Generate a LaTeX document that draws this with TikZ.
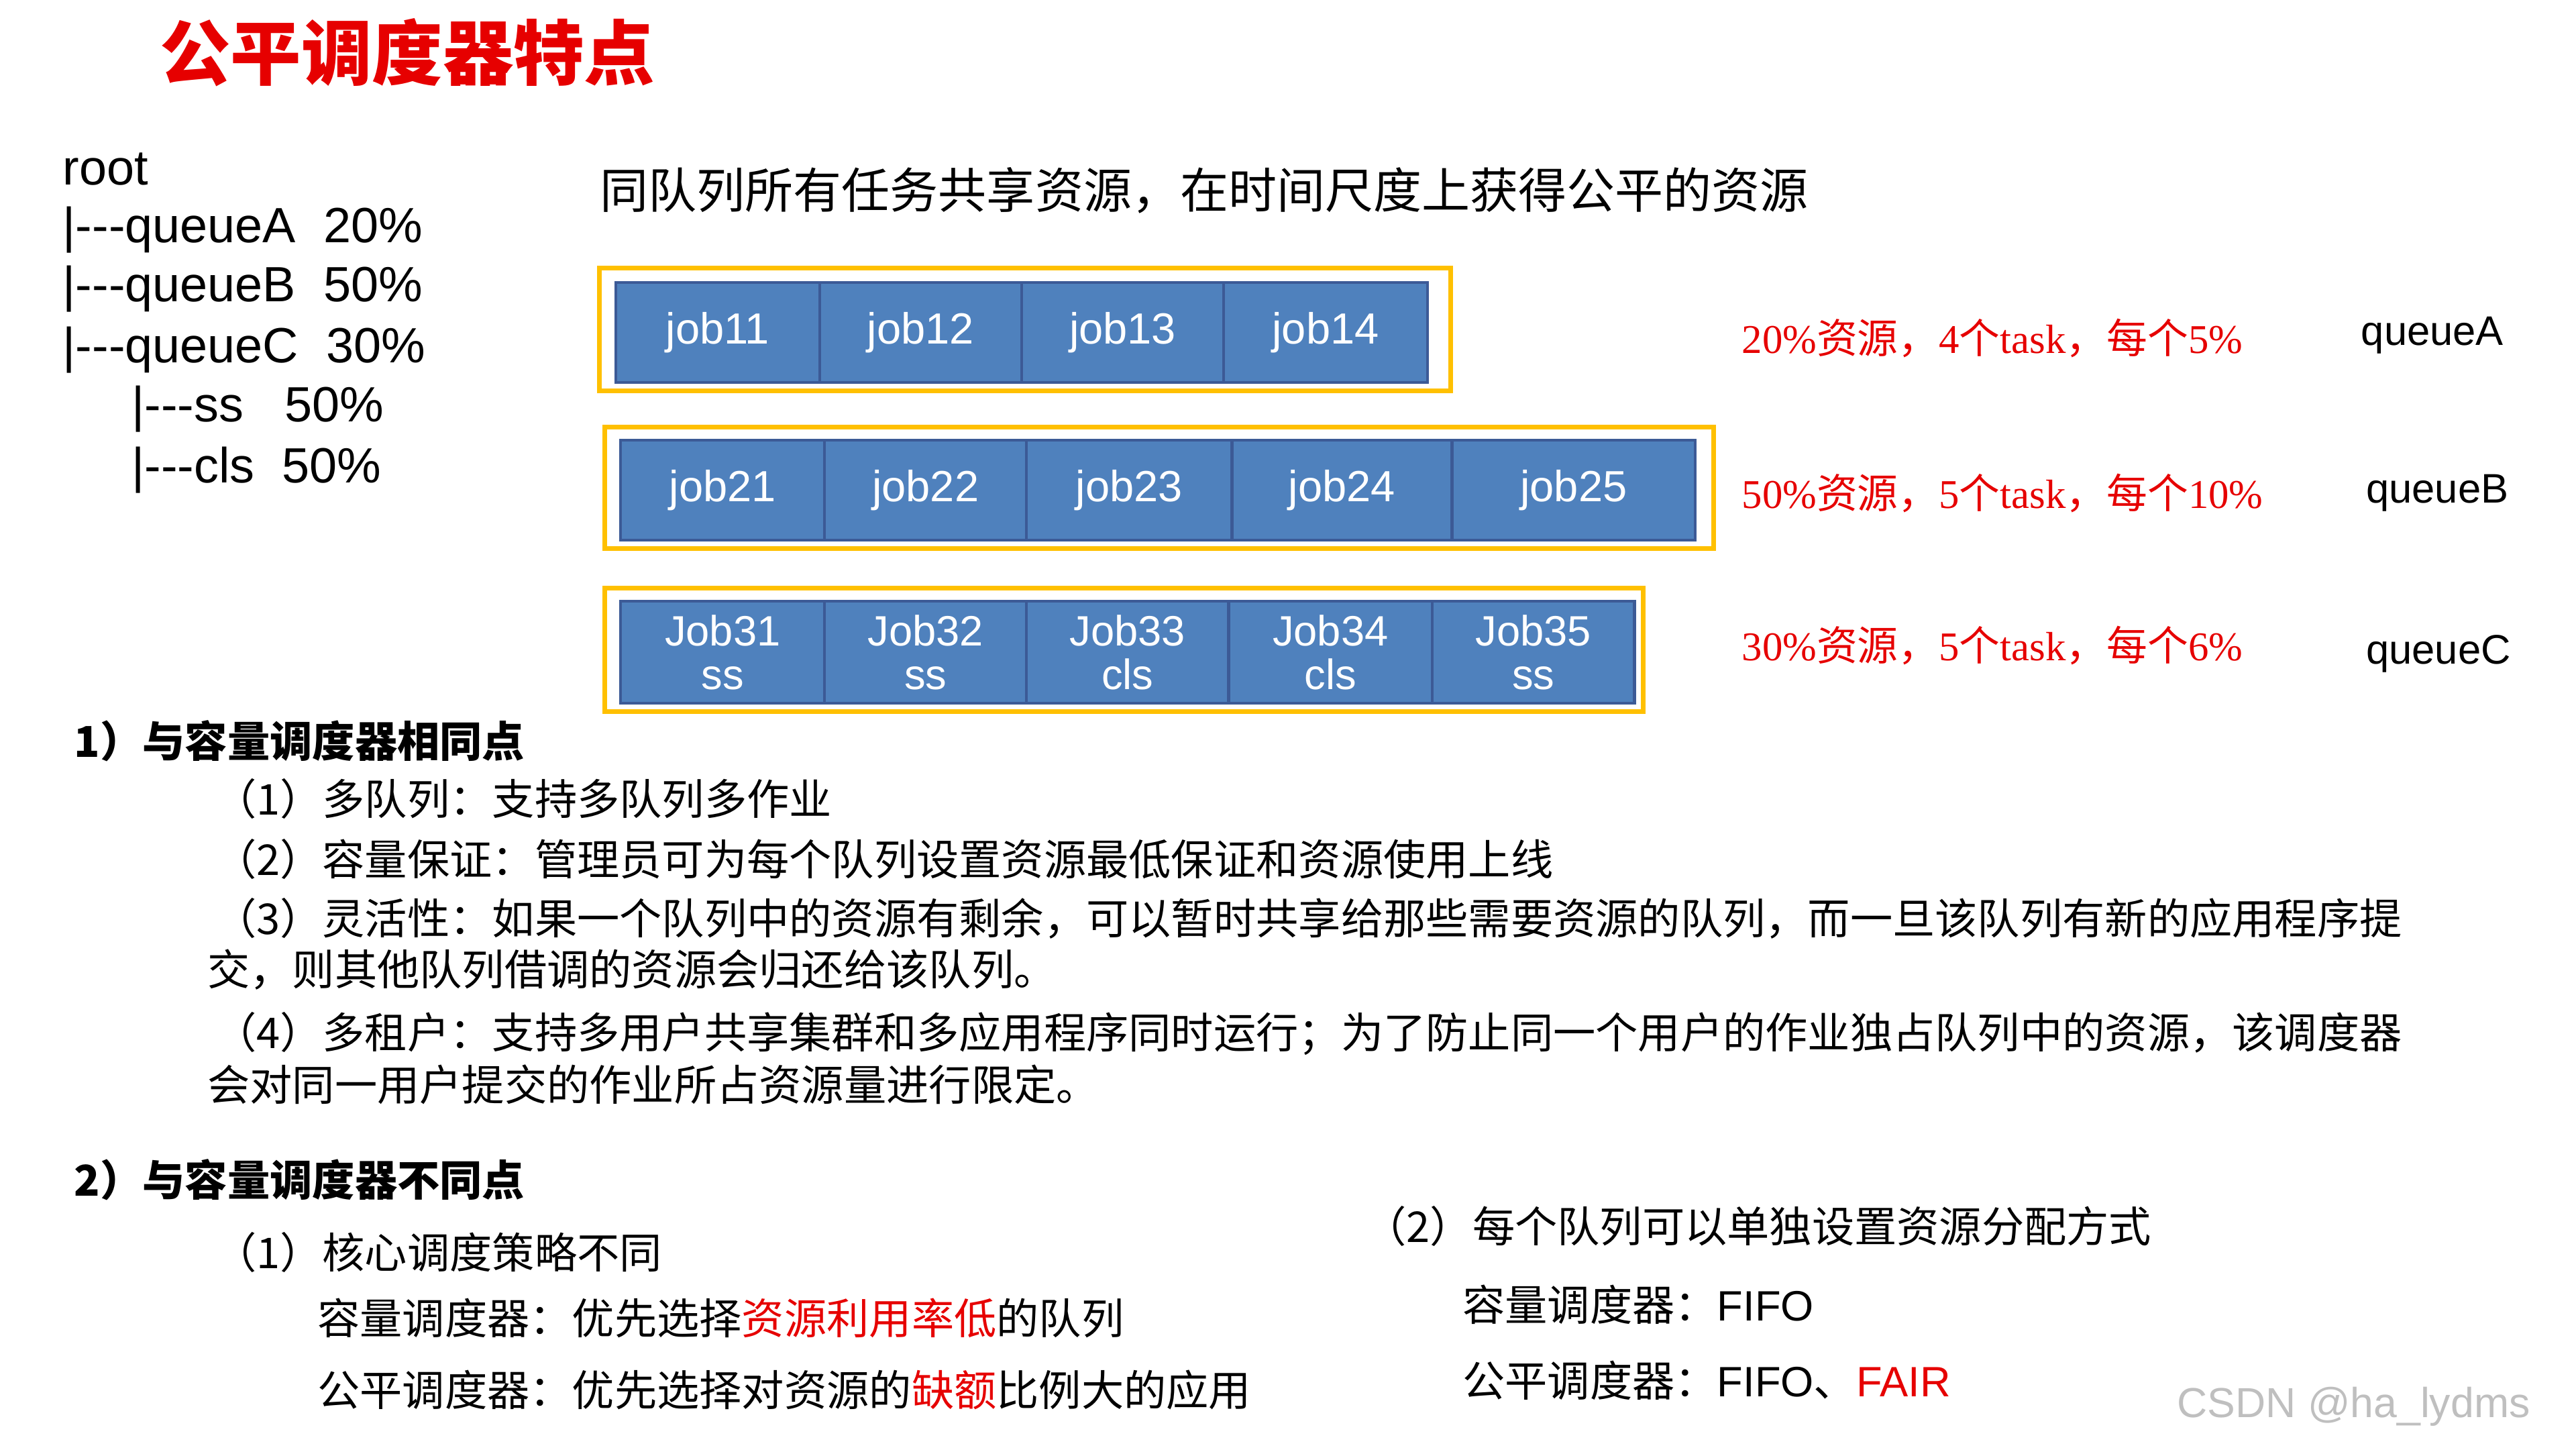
\documentclass[tikz,border=0pt]{standalone}
\usepackage{fontspec}
\setmainfont{Noto Sans CJK SC}
\newfontfamily\lat{Liberation Sans}
\newfontfamily\ser{Liberation Serif}
\newfontfamily\cjk{Noto Sans CJK SC}
\begin{document}
\begin{tikzpicture}[x=0.02449cm,y=-0.02449cm,
  jobbox/.style={draw={rgb,255:red,60;green,90;blue,150},line width=1.2pt,fill={rgb,255:red,79;green,129;blue,189},text=white,font=\lat\fontsize{18.5}{20}\selectfont,align=center,inner sep=0pt},
  ybox/.style={draw={rgb,255:red,255;green,192;blue,0},line width=2pt},
  tx/.style={anchor=west,inner sep=0pt,font=\fontsize{18}{20}\selectfont},
  redl/.style={anchor=west,inner sep=0pt,text={rgb,255:red,230;green,0;blue,0},font=\fontsize{17.3}{20}\selectfont}]
\useasboundingbox (0,0) rectangle (1568,882);
\node[anchor=west,inner sep=0pt,text={rgb,255:red,230;green,0;blue,0},font=\bfseries\fontsize{30}{34}\selectfont] (title) at (97,32) {公平调度器特点};
\foreach \t/\x/\y [count=\i] in {root/38/103,{|---queueA\ \ 20\%}/38/140,{|---queueB\ \ 50\%}/38/176,{|---queueC\ \ 30\%}/38/213,{|---ss\ \ \ 50\%}/80/249,{|---cls\ \ 50\%}/80/286}
  \node[anchor=west,inner sep=0pt,font=\lat\fontsize{21}{24}\selectfont] (r\i) at (\x,\y) {\t};
\node[anchor=west,inner sep=0pt,font=\fontsize{20.5}{24}\selectfont] (head) at (365,116) {同队列所有任务共享资源，在时间尺度上获得公平的资源};
% row 1
\draw[ybox] (365,163) rectangle (883,238);
\foreach \a/\b/\n in {374/498/job11,498/621/job12,621/744/job13,744/868/job14}
  \node[jobbox,minimum width={(\b-\a)*0.02449cm},minimum height=1.49cm,anchor=north west] (\n) at (\a,171) {\n};
% row 2
\draw[ybox] (368,260) rectangle (1043,334);
\foreach \a/\b/\n in {377/501/job21,501/624/job22,624/749/job23,749/883/job24,883/1031/job25}
  \node[jobbox,minimum width={(\b-\a)*0.02449cm},minimum height=1.49cm,anchor=north west] (\n) at (\a,267) {\n};
% row 3
\draw[ybox] (368,358) rectangle (1000,433);
\foreach \a/\b/\n/\s in {377/501/Job31/ss,501/624/Job32/ss,624/747/Job33/cls,747/871/Job34/cls,871/994/Job35/ss}
  \node[jobbox,minimum width={(\b-\a)*0.02449cm},minimum height=1.52cm,anchor=north west,font=\lat\fontsize{18}{18.5}\selectfont] (\n) at (\a,365) {\n\\\s};
\node[redl] (l1) at (1060,206) {\ser 20\%\cjk 资源，\ser 4\cjk 个\ser task\cjk ，每个\ser 5\%};
\node[redl] (l2) at (1060,300) {\ser 50\%\cjk 资源，\ser 5\cjk 个\ser task\cjk ，每个\ser 10\%};
\node[redl] (l3) at (1060,393) {\ser 30\%\cjk 资源，\ser 5\cjk 个\ser task\cjk ，每个\ser 6\%};
\node[anchor=west,inner sep=0pt,font=\lat\fontsize{17.5}{20}\selectfont] (qa) at (1437,204) {queueA};
\node[anchor=west,inner sep=0pt,font=\lat\fontsize{17.5}{20}\selectfont] (qb) at (1440,300) {queueB};
\node[anchor=west,inner sep=0pt,font=\lat\fontsize{17.5}{20}\selectfont] (qc) at (1440,398) {queueC};
\node[tx,font=\bfseries\fontsize{18}{20}\selectfont] (s1) at (45,451) {1）与容量调度器相同点};
\node[tx] (a1) at (130,486) {（1）多队列：支持多队列多作业};
\node[tx] (a2) at (130,523) {（2）容量保证：管理员可为每个队列设置资源最低保证和资源使用上线};
\node[tx] (a3) at (130,559) {（3）灵活性：如果一个队列中的资源有剩余，可以暂时共享给那些需要资源的队列，而一旦该队列有新的应用程序提};
\node[tx] (a3b) at (126,590) {交，则其他队列借调的资源会归还给该队列。};
\node[tx] (a4) at (130,629) {（4）多租户：支持多用户共享集群和多应用程序同时运行；为了防止同一个用户的作业独占队列中的资源，该调度器};
\node[tx] (a4b) at (126,660) {会对同一用户提交的作业所占资源量进行限定。};
\node[tx,font=\bfseries\fontsize{18}{20}\selectfont] (s2) at (45,718) {2）与容量调度器不同点};
\node[tx] (b1) at (130,762) {（1）核心调度策略不同};
\node[tx] (b2) at (193,802) {容量调度器：优先选择\textcolor[RGB]{230,0,0}{资源利用率低}的队列};
\node[tx] (b3) at (193,846) {公平调度器：优先选择对资源的\textcolor[RGB]{230,0,0}{缺额}比例大的应用};
\node[tx] (c1) at (830,746) {（2）每个队列可以单独设置资源分配方式};
\node[tx] (c2) at (890,794) {容量调度器：\lat FIFO};
\node[tx] (c3) at (890,840) {公平调度器：\lat FIFO\cjk 、\lat\textcolor[RGB]{230,0,0}{FAIR}};
\node[anchor=west,inner sep=0pt,text=black!25,font=\lat\fontsize{17.8}{20}\selectfont] (wm) at (1325,856) {CSDN @ha\_lydms};
\end{tikzpicture}
\end{document}
